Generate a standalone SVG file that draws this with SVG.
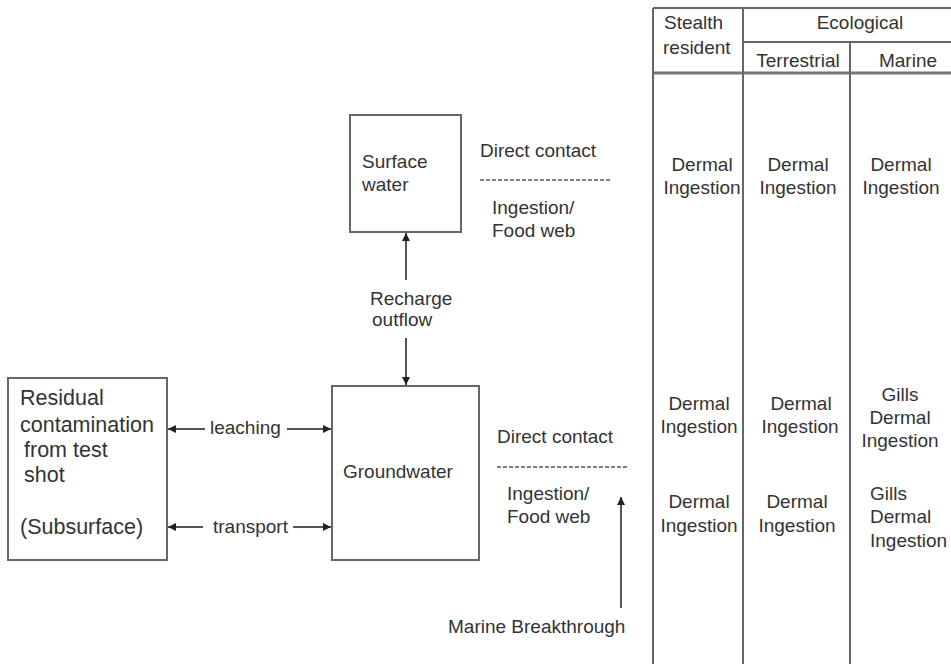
<svg xmlns="http://www.w3.org/2000/svg" width="951" height="664" viewBox="0 0 951 664">
<style>
text{font-family:"Liberation Sans",Arial,sans-serif;fill:#333;font-size:19px}
.box{fill:#fff;stroke:#666;stroke-width:2}
.ln{stroke:#555;stroke-width:2;fill:none}
.tl{stroke:#666;stroke-width:2;fill:none}
.dash{stroke:#555;stroke-width:1.5;stroke-dasharray:4 2;fill:none}
.c{text-anchor:middle}
.r{font-size:21.5px}
</style>
<defs>
<marker id="ah" viewBox="0 0 10 10" refX="10" refY="5" markerWidth="4" markerHeight="4" orient="auto-start-reverse" markerUnits="strokeWidth">
<path d="M0,0 L10,5 L0,10 z" fill="#222"/>
</marker>
</defs>
<rect width="951" height="664" fill="#fff"/>

<g id="table">
<line class="tl" x1="653" y1="8" x2="951" y2="8"/>
<line class="tl" x1="743" y1="42" x2="951" y2="42"/>
<line x1="653" y1="73" x2="951" y2="73" stroke="#777" stroke-width="3"/>
<line class="tl" x1="653" y1="8" x2="653" y2="664"/>
<line class="tl" x1="743" y1="8" x2="743" y2="664"/>
<line class="tl" x1="850" y1="42" x2="850" y2="664"/>
<text x="664" y="29" font-size="16">Stealth</text>
<text x="663" y="54" font-size="16">resident</text>
<text class="c" x="860" y="29" font-size="23">Ecological</text>
<text class="c" x="798" y="67" font-size="18">Terrestrial</text>
<text class="c" x="908" y="67" font-size="18">Marine</text>

<text class="c" x="702" y="171">Dermal</text>
<text class="c" x="702" y="194">Ingestion</text>
<text class="c" x="798" y="171">Dermal</text>
<text class="c" x="798" y="194">Ingestion</text>
<text class="c" x="901" y="171">Dermal</text>
<text class="c" x="901" y="194">Ingestion</text>

<text class="c" x="699" y="410">Dermal</text>
<text class="c" x="699" y="433">Ingestion</text>
<text class="c" x="801" y="410">Dermal</text>
<text class="c" x="800" y="433">Ingestion</text>
<text class="c" x="900" y="401">Gills</text>
<text class="c" x="900" y="424">Dermal</text>
<text class="c" x="900" y="447">Ingestion</text>

<text class="c" x="699" y="508">Dermal</text>
<text class="c" x="699" y="532">Ingestion</text>
<text class="c" x="797" y="508">Dermal</text>
<text class="c" x="797" y="532">Ingestion</text>
<text x="870" y="500">Gills</text>
<text x="870" y="523">Dermal</text>
<text x="870" y="547">Ingestion</text>
</g>

<g id="surface-water">
<rect class="box" x="350" y="115" width="111" height="117"/>
<text x="362" y="168">Surface</text>
<text x="362" y="191">water</text>
</g>

<g id="surface-exposure">
<text x="480" y="157">Direct contact</text>
<line class="dash" x1="480" y1="180" x2="612" y2="180"/>
<text x="492" y="214">Ingestion/</text>
<text x="492" y="237">Food web</text>
</g>

<g id="residual">
<rect class="box" x="8" y="378" width="159" height="182"/>
<text class="r" x="20" y="405">Residual</text>
<text class="r" x="20" y="432">contamination</text>
<text class="r" x="24" y="457">from test</text>
<text class="r" x="24" y="482">shot</text>
<text class="r" x="20" y="534">(Subsurface)</text>
</g>

<g id="groundwater">
<rect class="box" x="332" y="386" width="147" height="174"/>
<text x="343" y="478">Groundwater</text>
</g>

<g id="groundwater-exposure">
<text x="497" y="443">Direct contact</text>
<line class="dash" x1="497" y1="467" x2="629" y2="467"/>
<text x="507" y="500">Ingestion/</text>
<text x="507" y="523">Food web</text>
</g>

<g id="connectors">
<line class="ln" x1="406" y1="280" x2="406" y2="233" marker-end="url(#ah)"/>
<line class="ln" x1="406" y1="338" x2="406" y2="385" marker-end="url(#ah)"/>
<text x="370" y="305">Recharge</text>
<text x="372" y="326">outflow</text>

<line class="ln" x1="205" y1="429" x2="168" y2="429" marker-end="url(#ah)"/>
<line class="ln" x1="287" y1="429" x2="331" y2="429" marker-end="url(#ah)"/>
<text x="210" y="434">leaching</text>

<line class="ln" x1="203" y1="527" x2="168" y2="527" marker-end="url(#ah)"/>
<line class="ln" x1="293" y1="527" x2="331" y2="527" marker-end="url(#ah)"/>
<text x="213" y="533">transport</text>

<line class="ln" x1="621" y1="608" x2="621" y2="497" marker-end="url(#ah)"/>
<text x="448" y="633">Marine Breakthrough</text>
</g>
</svg>
